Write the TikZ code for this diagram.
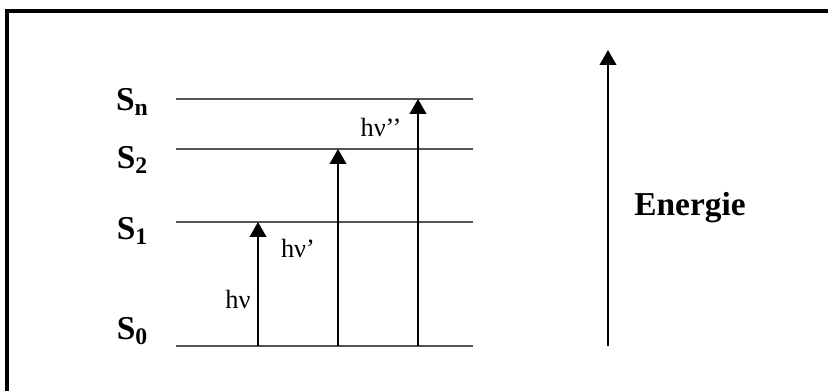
\documentclass[tikz,border=0pt]{standalone}
\usepackage{fontspec}
\setmainfont{Liberation Serif}
\usetikzlibrary{positioning,arrows.meta,calc}
\definecolor{levelgray}{HTML}{555555}
\newcommand{\lvlname}[1]{\textbf{S}\raisebox{-0.3ex}{\fontsize{13.5}{15}\selectfont\textbf{#1}}}

\begin{document}
\begin{tikzpicture}[x=0.02cm, y=-0.02cm,
    every node/.style={font=\fontsize{15}{18}\selectfont, inner sep=0pt},
    level/.style={levelgray, line width=0.75pt},
    photon/.style={-{Triangle[width=9.5pt,length=8.5pt]}, line width=0.9pt, black},
    statelabel/.style={font=\fontsize{19}{22}\selectfont}]
      \useasboundingbox (0,0) rectangle (828,391);
      % Frame (cut by the page edge)
      \begin{scope}
        \clip (0,0) rectangle (828,391);
        \draw[line width=2.3pt] (7,11) rectangle (900,450);
      \end{scope}
      % Levels
      \coordinate (s0L) at (176,346); \coordinate (s0R) at (473,346);
      \coordinate (s1L) at (176,222); \coordinate (s1R) at (473,222);
      \coordinate (s2L) at (176,149); \coordinate (s2R) at (473,149);
      \coordinate (snL) at (176,99);  \coordinate (snR) at (473,99);
      \draw[level] (s0L) -- (s0R);
      \draw[level] (s1L) -- (s1R);
      \draw[level] (s2L) -- (s2R);
      \draw[level] (snL) -- (snR);
      % State labels
      \node[statelabel] (lab0) at (132,331) {\lvlname{0}};
      \node[statelabel] (lab1) at (132,231) {\lvlname{1}};
      \node[statelabel] (lab2) at (132,160) {\lvlname{2}};
      \node[statelabel] (labn) at (132,102) {\lvlname{n}};
      % Excitations
      \coordinate (a1) at (258,346); \coordinate (t1) at (258,222);
      \coordinate (a2) at (338,346); \coordinate (t2) at (338,149);
      \coordinate (a3) at (418,346); \coordinate (t3) at (418,99);
      \draw[photon] (a1) -- (t1);
      \draw[photon] (a2) -- (t2);
      \draw[photon] (a3) -- (t3);
      \node (hv1) at (238,299) {hν};
      \node (hv2) at (298,248) {hν’};
      \node (hv3) at (381,127) {hν’’};
      % Energy axis
      \coordinate (e0) at (608,346);
      \coordinate (e1) at (608,50);
      \draw[photon, line width=0.8pt] (e0) -- (e1);
      \node[font=\fontsize{19}{22}\selectfont\bfseries] (energie) at (690,208) {Energie};
\end{tikzpicture}
\end{document}
